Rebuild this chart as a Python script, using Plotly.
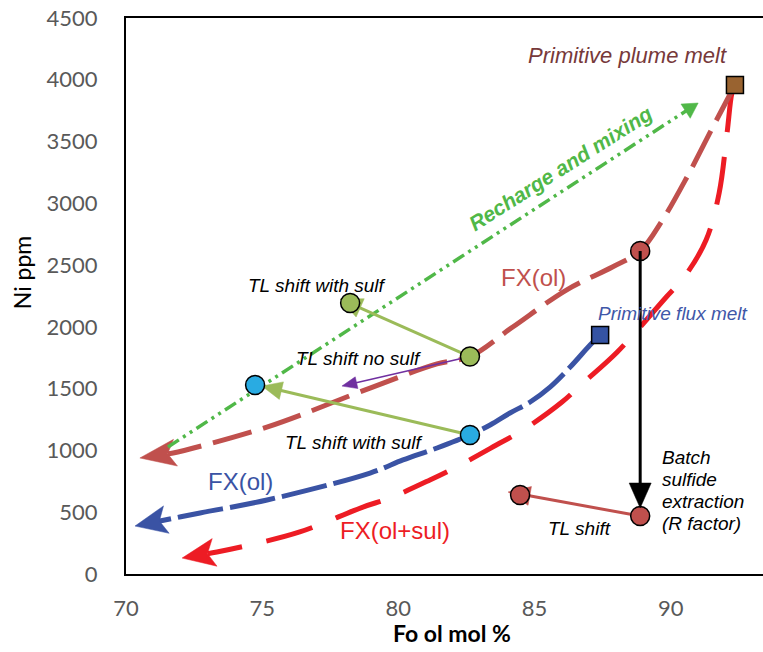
import math
import plotly.graph_objects as go

# ---- Fractional crystallisation paths (Fo mol %, Ni ppm) ----
fx_ol_plume_fo = [92.36, 91.55, 90.6, 89.7, 88.88, 87.86, 86.17, 84.2, 82.63, 81.42, 78.96, 75.17, 71.73, 70.51]
fx_ol_plume_ni = [3958, 3618, 3213, 2865, 2614, 2485, 2298, 1999, 1760, 1700, 1505, 1189, 979, 939]

fx_ol_flux_fo = [87.41, 87.04, 86.31, 85.57, 84.84, 84.10, 83.37, 82.63, 81.42, 80.17, 78.96, 75.18, 72.72, 70.88, 70.33]
fx_ol_flux_ni = [1934, 1853, 1675, 1513, 1392, 1303, 1206, 1125, 1020, 923, 817, 599, 494, 413, 388]

fx_olsul_fo = [92.36, 92.25, 92.07, 91.78, 91.3, 90.5, 89.84, 88.04, 86.78, 86.01, 84.58, 83.73, 82.27, 81.16, 79.69, 78.7, 76.38, 74.55, 73.34, 72.06]
fx_olsul_ni = [3958, 3893, 3569, 3084, 2703, 2404, 2242, 1797, 1546, 1392, 1165, 1060, 882, 761, 615, 542, 340, 235, 178, 129]

# ---- Recharge and mixing trend ----
recharge_fo = [71.54, 91.01]
recharge_ni = [1028, 3812]

# ---- Shift arrows: [start, end] ----
tl_sulf_upper_fo = [82.63, 77.86]
tl_sulf_upper_ni = [1760, 2226]
tl_nosulf_fo = [82.63, 77.93]
tl_nosulf_ni = [1760, 1521]
tl_sulf_lower_fo = [82.63, 74.99]
tl_sulf_lower_ni = [1125, 1521]
tl_shift_fo = [88.88, 84.03]
tl_shift_ni = [469, 664]
batch_fo = [88.88, 88.88]
batch_ni = [2614, 534]

# ---- Melt compositions and samples ----
plume_fo, plume_ni = [92.36], [3958]
flux_fo, flux_ni = [87.41], [1934]
red_pts_fo = [88.88, 84.47, 88.88]
red_pts_ni = [2614, 639, 469]
green_pts_fo = [78.23, 82.63]
green_pts_ni = [2193, 1760]
cyan_pts_fo = [74.74, 82.63]
cyan_pts_ni = [1530, 1125]

x_ticks = [70, 75, 80, 85, 90]
y_ticks = [0, 500, 1000, 1500, 2000, 2500, 3000, 3500, 4000, 4500]

C_PLUME = "#C0504D"
C_FLUX = "#3A53A4"
C_SUL = "#ED1C24"
C_MIX = "#50B848"
C_TL = "#9BBB59"
C_PURPLE = "#7030A0"

# figure geometry (used for the layout and to keep arrowheads undistorted)
W_FIG, H_FIG = 763, 652
M_L, M_R, M_T, M_B = 126, 0, 18, 78
X_RANGE = [70, 93.39]
Y_RANGE = [0, 4500]
SX = (W_FIG - M_L - M_R) / (X_RANGE[1] - X_RANGE[0])
SY = (H_FIG - M_T - M_B) / (Y_RANGE[1] - Y_RANGE[0])

fig = go.Figure()


def arrow_line(xs, ys, color, width, head_len, head_w, notch=0.0, dash="solid", spline=False):
    """Line with a filled arrowhead whose tip sits on the last point."""
    tx, ty = xs[-1], ys[-1]
    dx = (tx - xs[-2]) * SX
    dy = (ty - ys[-2]) * SY
    d = math.hypot(dx, dy)
    ux, uy = dx / d, dy / d
    nx, ny = -uy, ux

    def to_data(rx, ry):
        return tx + rx / SX, ty + ry / SY

    back = head_len
    inner = head_len * (1 - notch)
    c1 = to_data(-back * ux + head_w / 2 * nx, -back * uy + head_w / 2 * ny)
    c2 = to_data(-back * ux - head_w / 2 * nx, -back * uy - head_w / 2 * ny)
    nb = to_data(-inner * ux, -inner * uy)
    stop = inner if notch > 0 else 0.6 * head_len
    end = to_data(-stop * ux, -stop * uy)

    fig.add_trace(go.Scatter(
        x=list(xs[:-1]) + [end[0]], y=list(ys[:-1]) + [end[1]], mode="lines",
        line=dict(color=color, width=width, dash=dash,
                  shape="spline" if spline else "linear", smoothing=1.0),
        hoverinfo="skip", showlegend=False,
    ))
    fig.add_trace(go.Scatter(
        x=[tx, c1[0], nb[0], c2[0], tx], y=[ty, c1[1], nb[1], c2[1], ty],
        mode="lines", fill="toself", fillcolor=color,
        line=dict(color=color, width=0.5),
        hoverinfo="skip", showlegend=False,
    ))


# crystallisation curves
arrow_line(fx_olsul_fo, fx_olsul_ni, C_SUL, 5, 33, 28, notch=0.22, dash="48px,25px", spline=True)
arrow_line(fx_ol_flux_fo, fx_ol_flux_ni, C_FLUX, 5, 32, 28, notch=0.22, dash="46px,7px", spline=True)
arrow_line(fx_ol_plume_fo, fx_ol_plume_ni, C_PLUME, 5, 36, 27, notch=0.22, dash="40px,12px", spline=True)

# recharge trend
arrow_line(recharge_fo, recharge_ni, C_MIX, 3.5, 15, 17, dash="13px,5px,3px,5px,3px,5px")

# shift arrows
arrow_line(tl_sulf_upper_fo, tl_sulf_upper_ni, C_TL, 3, 22, 20)
arrow_line(tl_sulf_lower_fo, tl_sulf_lower_ni, C_TL, 3, 20, 18)
arrow_line(tl_nosulf_fo, tl_nosulf_ni, C_PURPLE, 1.6, 15, 12)
arrow_line(tl_shift_fo, tl_shift_ni, C_PLUME, 3, 22, 19)


# markers
def points(xs, ys, color, symbol="circle", size=19):
    fig.add_trace(go.Scatter(
        x=xs, y=ys, mode="markers",
        marker=dict(symbol=symbol, size=size, color=color, opacity=1,
                    line=dict(color="black", width=1.5)),
        hoverinfo="skip", showlegend=False,
    ))


points(green_pts_fo, green_pts_ni, C_TL)
points(cyan_pts_fo, cyan_pts_ni, "#29ABE2")
points(red_pts_fo, red_pts_ni, C_PLUME)
points(plume_fo, plume_ni, "#996330", symbol="square", size=17)
points(flux_fo, flux_ni, "#3553A3", symbol="square", size=17)

# batch sulfide extraction arrow
arrow_line(batch_fo, batch_ni, "black", 3, 25, 22)

ARIAL = "Liberation Sans, Arial, sans-serif"


def label(x, y, text, color="black", size=19, italic=True, bold=False, angle=0, xanchor="center", yshift=0):
    t = text
    if bold:
        t = "<b>" + t + "</b>"
    if italic:
        t = "<i>" + t + "</i>"
    fig.add_annotation(x=x, y=y, xref="x", yref="y", text=t, showarrow=False,
                       font=dict(family=ARIAL, size=size, color=color),
                       textangle=angle, xanchor=xanchor, yanchor="middle", yshift=yshift)


label(88.40, 4200, "Primitive plume melt", color="#77393A", size=22)
label(85.94, 3286, "Recharge and mixing", color=C_MIX, size=21, bold=True, angle=-32.5)
label(84.95, 2396, "FX(ol)", color=C_PLUME, size=24, italic=False)
label(90.09, 2112, "Primitive flux melt", color="#3F57A8", size=19)
label(77.01, 2339, "TL shift with sulf")
label(78.52, 1748, "TL shift no sulf")
label(78.37, 1068, "TL shift with sulf")
label(74.19, 745, "FX(ol)", color=C_FLUX, size=24, italic=False)
label(79.88, 356, "FX(ol+sul)", color=C_SUL, size=24, italic=False)
label(86.67, 372, "TL shift")
for i, line in enumerate(["Batch", "sulfide", "extraction", "(R factor)"]):
    label(89.61, 939, line, xanchor="left", yshift=-21.7 * i)

# axis titles
fig.add_annotation(x=-0.163, y=0.543, xref="paper", yref="paper", text="Ni ppm",
                   showarrow=False, textangle=-90, xanchor="center", yanchor="middle",
                   font=dict(family="Lato, sans-serif", size=23, color="black"))
fig.add_annotation(x=0.512, y=-0.106, xref="paper", yref="paper", text="<b>Fo ol mol %</b>",
                   showarrow=False, xanchor="center", yanchor="middle",
                   font=dict(family="Lato, sans-serif", size=23, color="black"))

fig.update_layout(
    width=W_FIG, height=H_FIG,
    margin=dict(l=M_L, r=M_R, t=M_T, b=M_B),
    plot_bgcolor="white", paper_bgcolor="white",
    showlegend=False,
)
fig.update_xaxes(range=X_RANGE, tickvals=x_ticks,
                 showgrid=False, zeroline=False, showline=True, linecolor="black", linewidth=2,
                 mirror=True, ticks="", ticklabelstandoff=14,
                 tickfont=dict(family="Lato, sans-serif", size=22, color="#595959"))
fig.update_yaxes(range=Y_RANGE, tickvals=y_ticks,
                 showgrid=False, zeroline=False, showline=True, linecolor="black", linewidth=2,
                 mirror=False, ticks="", ticklabelstandoff=22,
                 tickfont=dict(family="Lato, sans-serif", size=22, color="#595959"))

fig.write_html("out.html")
